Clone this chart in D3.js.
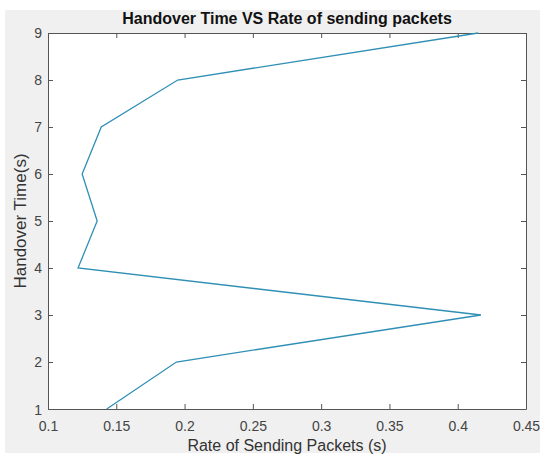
<!DOCTYPE html>
<html>
<head>
<meta charset="utf-8">
<script src="https://cdn.jsdelivr.net/npm/d3@7"></script>
<style>
  body { margin: 0; background: #fff; }
  svg { display: block; font-family: "Liberation Sans", Arial, sans-serif; }
</style>
</head>
<body>
<div id="chart"></div>
<script>
// Handover time vs rate of sending packets (line chart, MATLAB style)

const handoverTimes = [1, 2, 3, 4, 5, 6, 7, 8, 9];
const sendingRates  = [0.143, 0.194, 0.417, 0.122, 0.136, 0.125, 0.139, 0.195, 0.415];

const xTicks = [0.1, 0.15, 0.2, 0.25, 0.3, 0.35, 0.4, 0.45];
const yTicks = [1, 2, 3, 4, 5, 6, 7, 8, 9];

const width = 540;
const height = 457;
const margin = { top: 33, right: 14, bottom: 48, left: 48 };

const svg = d3.select("#chart")
  .append("svg")
  .attr("width", width)
  .attr("height", height);

// fond gris de la figure
svg.append("rect")
  .attr("x", 5).attr("y", 10)
  .attr("width", width - 5).attr("height", height - 14)
  .attr("fill", "#f0f0f0");

const x = d3.scaleLinear()
  .domain([0.1, 0.45])
  .range([margin.left, width - margin.right]);

const y = d3.scaleLinear()
  .domain([1, 9])
  .range([height - margin.bottom, margin.top]);

// zone du tracé
svg.append("rect")
  .attr("x", x(0.1)).attr("y", y(9))
  .attr("width", x(0.45) - x(0.1))
  .attr("height", y(1) - y(9))
  .attr("fill", "#fff");

const axisColor = "#555";
const tickLen = 5;

function styleAxis(g) {
  g.select(".domain").attr("stroke", axisColor).attr("stroke-width", 1);
  g.selectAll(".tick line").attr("stroke", axisColor);
  g.selectAll(".tick text")
    .attr("fill", "#444")
    .style("font-size", "14px");
}

// axe X bas
svg.append("g")
  .attr("transform", `translate(0,${y(1)})`)
  .call(d3.axisBottom(x).tickValues(xTicks).tickSize(-tickLen).tickSizeOuter(0)
    .tickPadding(12).tickFormat(d3.format("")))
  .call(styleAxis);

// axe X haut
svg.append("g")
  .attr("transform", `translate(0,${y(9)})`)
  .call(d3.axisTop(x).tickValues(xTicks).tickSize(-tickLen).tickSizeOuter(0).tickFormat(""))
  .call(styleAxis);

// axe Y gauche
svg.append("g")
  .attr("transform", `translate(${x(0.1)},0)`)
  .call(d3.axisLeft(y).tickValues(yTicks).tickSize(-tickLen).tickSizeOuter(0)
    .tickPadding(6))
  .call(styleAxis)
  .call(g => g.selectAll(".tick")
    .filter(d => d === 1)
    .select("text")
    .attr("dy", "0.4em"));

// axe Y droit
svg.append("g")
  .attr("transform", `translate(${x(0.45)},0)`)
  .call(d3.axisRight(y).tickValues(yTicks).tickSize(-tickLen).tickSizeOuter(0).tickFormat(""))
  .call(styleAxis);

// courbe
const line = d3.line()
  .x((d, i) => x(sendingRates[i]))
  .y(d => y(d));

svg.append("path")
  .datum(handoverTimes)
  .attr("d", line)
  .attr("fill", "none")
  .attr("stroke", "#2f8fb5")
  .attr("stroke-width", 1.3);

// titre
svg.append("text")
  .attr("x", (x(0.1) + x(0.45)) / 2)
  .attr("y", 24)
  .attr("text-anchor", "middle")
  .style("font-size", "16px")
  .style("font-weight", "bold")
  .attr("fill", "#111")
  .text("Handover Time VS Rate of sending packets");

// libellés des axes
svg.append("text")
  .attr("x", (x(0.1) + x(0.45)) / 2)
  .attr("y", 451)
  .attr("text-anchor", "middle")
  .style("font-size", "16px")
  .attr("fill", "#333")
  .text("Rate of Sending Packets (s)");

svg.append("text")
  .attr("transform", `translate(26,${(y(1) + y(9)) / 2}) rotate(-90)`)
  .attr("text-anchor", "middle")
  .style("font-size", "17px")
  .attr("fill", "#333")
  .text("Handover Time(s)");
</script>
</body>
</html>
